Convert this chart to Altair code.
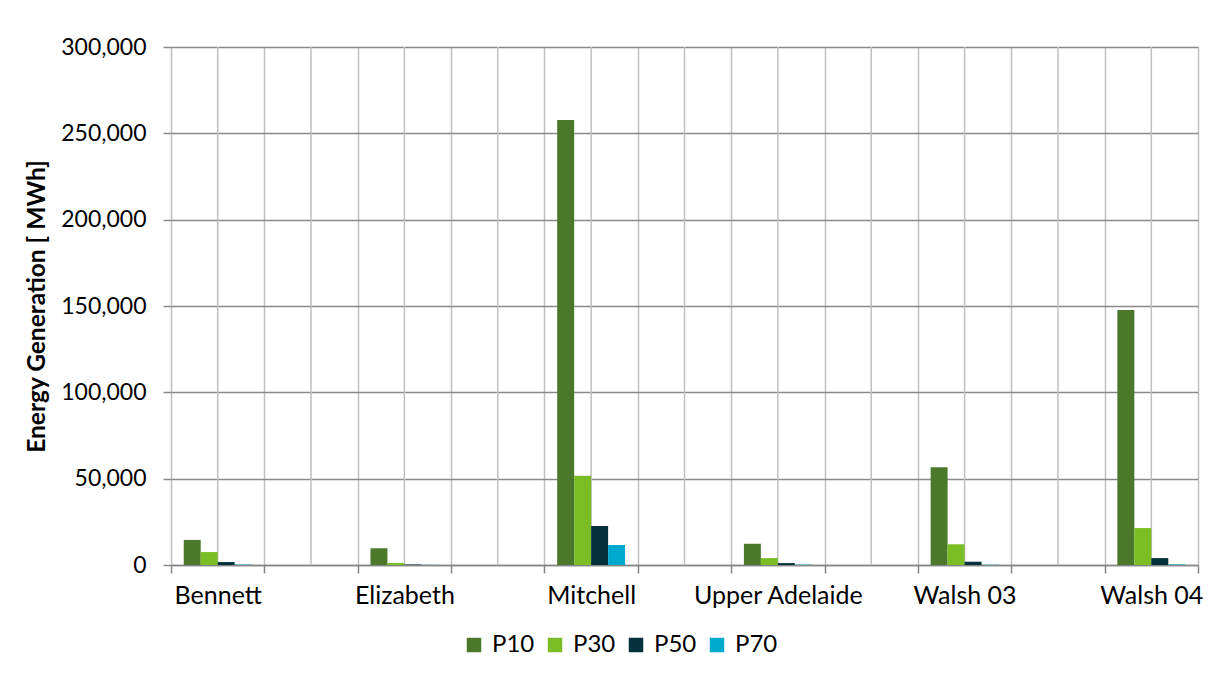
import altair as alt
import pandas as pd

# categories on the axis (blank slots between the labelled sites)
categories = ["Bennett", "gap1", "Elizabeth", "gap2", "Mitchell", "gap3",
              "Upper Adelaide", "gap4", "Walsh 03", "gap5", "Walsh 04"]
sites = ["Bennett", "Elizabeth", "Mitchell", "Upper Adelaide", "Walsh 03", "Walsh 04"]
series = ["P10", "P30", "P50", "P70"]
colors = ["#4C782B", "#7BBD24", "#03313D", "#00A9CE"]

p10 = [14500, 9700, 257700, 12300, 56600, 147700]
p30 = [7500, 1200, 51700, 4000, 12000, 21400]
p50 = [1700, 300, 22600, 1100, 1900, 4000]
p70 = [250, 100, 11600, 200, 150, 300]

y_ticks = [0, 50000, 100000, 150000, 200000, 250000, 300000]

rows = []
for s, vals in zip(series, [p10, p30, p50, p70]):
    for site, v in zip(sites, vals):
        rows.append({"site": site, "series": s, "value": v})
df = pd.DataFrame(rows)
cat_df = pd.DataFrame({"site": categories})

FONT = "Lato"
FS = 25

x_scale = alt.Scale(domain=categories, paddingInner=0, paddingOuter=0)

x_axis = alt.Axis(
    title=None,
    tickBand="extent",
    grid=True,
    gridColor="#BFBFBF",
    gridWidth=1.5,
    domainColor="#868686",
    domainWidth=1.5,
    tickColor="#868686",
    tickWidth=1.5,
    tickSize=8,
    labelPadding=10,
    labelAngle=0,
    labelFont=FONT,
    labelFontSize=FS,
    labelColor="#000000",
    labelExpr="substring(datum.value, 0, 3) == 'gap' ? '' : datum.value",
)

centers = alt.Chart(cat_df).mark_rule(color="#BFBFBF", strokeWidth=1.5).encode(
    x=alt.X("site:N", scale=x_scale, axis=x_axis, sort=categories)
)

bars = alt.Chart(df).mark_bar(stroke=None).encode(
    x=alt.X("site:N", scale=x_scale, axis=x_axis, sort=categories),
    xOffset=alt.XOffset("series:N", sort=series,
                        scale=alt.Scale(paddingInner=0, paddingOuter=0.75)),
    y=alt.Y("value:Q",
            scale=alt.Scale(domain=[0, 300000], nice=False),
            axis=alt.Axis(
                title="Energy Generation [ MWh]",
                titleFont=FONT,
                titleFontSize=24.5,
                titleFontWeight="bold",
                titleColor="#000000",
                titlePadding=11,
                values=y_ticks,
                format=",.0f",
                grid=True,
                gridColor="#898989",
                gridWidth=1.5,
                domain=False,
                tickColor="#898989",
                tickWidth=1.5,
                tickSize=8,
                labelPadding=17,
                labelFont=FONT,
                labelFontSize=23,
                labelColor="#000000",
            )),
    color=alt.Color("series:N", sort=series,
                    scale=alt.Scale(domain=series, range=colors),
                    legend=alt.Legend(
                        title=None,
                        orient="none",
                        direction="horizontal",
                        legendX=291,
                        legendY=586,
                        symbolType="square",
                        symbolSize=210,
                        symbolStrokeWidth=0,
                        labelFont=FONT,
                        labelFontSize=24,
                        labelColor="#000000",
                        labelOffset=6,
                        columnPadding=8,
                    )),
)

chart = alt.layer(centers, bars).properties(
    width=1027,
    height=518,
    autosize=alt.AutoSizeParams(type="none"),
    padding={"left": 163, "top": 39, "right": 15, "bottom": 105},
).configure_view(stroke=None).configure(background="white")

chart.save("out.html", embed_options={"renderer": "svg", "actions": False})
